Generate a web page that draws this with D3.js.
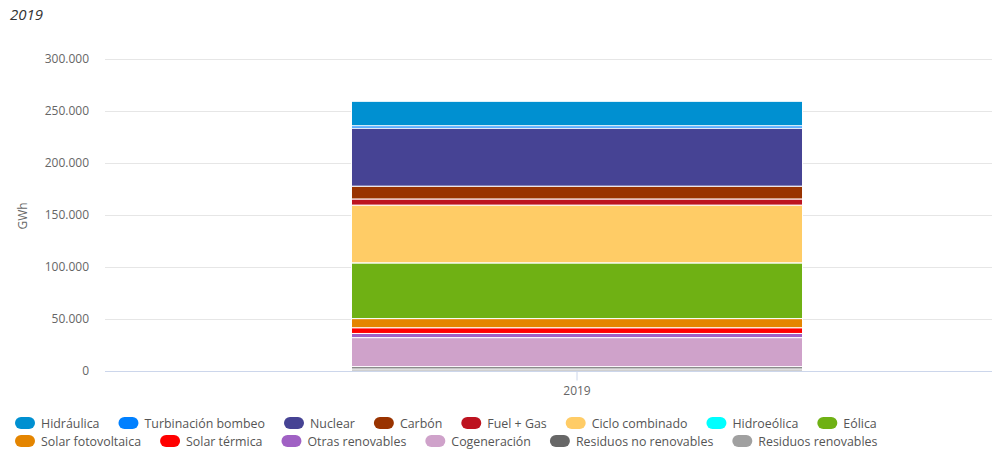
<!DOCTYPE html>
<html>
<head>
<meta charset="utf-8">
<script src="https://cdn.jsdelivr.net/npm/d3@7/dist/d3.min.js"></script>
<style>
  html, body { margin: 0; padding: 0; background: #fff; }
  svg { display: block; font-family: "Open Sans", "DejaVu Sans", sans-serif; }
</style>
</head>
<body>
<svg id="chart" width="992" height="450"></svg>
<script>
// Generación por tecnología, 2019 (GWh)
const categories = ["2019"];
const seriesNames = [
  "Hidráulica", "Turbinación bombeo", "Nuclear", "Carbón", "Fuel + Gas",
  "Ciclo combinado", "Hidroeólica", "Eólica", "Solar fotovoltaica",
  "Solar térmica", "Otras renovables", "Cogeneración",
  "Residuos no renovables", "Residuos renovables"
];
const seriesValues = [
  23500, 2300, 55800, 12300, 5900,
  55500, 20, 53600, 8800,
  5500, 4000, 27900,
  2200, 2000
];
const seriesColors = [
  "#0090d1", "#0080ff", "#464394", "#993300", "#bd1320",
  "#ffcc66", "#00ffff", "#6fb114", "#e48500",
  "#ff0000", "#a061c4", "#cfa2ca",
  "#676767", "#a0a0a0"
];
const yTicks = [0, 50000, 100000, 150000, 200000, 250000, 300000];
const chartTitle = "2019";
const yAxisTitle = "GWh";

const svg = d3.select("#chart");
const plot = { left: 105, right: 1049, top: 59, bottom: 371 };

const locale = d3.formatLocale({ decimal: ",", thousands: ".", grouping: [3], currency: ["", "€"] });
const fmt = locale.format(",d");

const x = d3.scaleBand().domain(categories).range([plot.left, plot.right]).padding(0.3524);
const y = d3.scaleLinear().domain([0, 300000]).range([plot.bottom, plot.top]);

// Title
svg.append("text")
  .attr("x", 10).attr("y", 20)
  .attr("font-size", 15).attr("font-style", "italic")
  .attr("fill", "#333").text(chartTitle);

// Gridlines
svg.append("g").selectAll("line").data(yTicks.filter(d => d > 0)).join("line")
  .attr("x1", plot.left).attr("x2", plot.right)
  .attr("y1", d => Math.round(y(d)) + 0.5).attr("y2", d => Math.round(y(d)) + 0.5)
  .attr("stroke", "#e6e6e6").attr("stroke-width", 1);

// Y axis labels
const yAxis = d3.axisLeft(y).tickValues(yTicks).tickFormat(d => fmt(d)).tickSize(0).tickPadding(16);
const yg = svg.append("g").attr("transform", `translate(${plot.left},0)`).call(yAxis);
yg.select(".domain").remove();
yg.selectAll("text").attr("font-size", 12).attr("fill", "#666")
  .attr("font-family", "'Open Sans', sans-serif");

// Y axis title
svg.append("text")
  .attr("transform", `translate(27,${(plot.top + plot.bottom) / 2 + 1}) rotate(-90)`)
  .attr("text-anchor", "middle").attr("font-size", 12).attr("fill", "#666")
  .text(yAxisTitle);

// Stacked bar (first series on top, as in the legend order)
const rows = categories.map(c => {
  const r = { category: c };
  seriesNames.forEach((s, i) => { r[s] = seriesValues[i]; });
  return r;
});
const stackOrder = seriesNames.slice().reverse();
const stacked = d3.stack().keys(stackOrder)(rows);

svg.append("g").selectAll("g").data(stacked).join("g")
  .attr("fill", d => seriesColors[seriesNames.indexOf(d.key)])
  .selectAll("rect").data(d => d).join("rect")
  .attr("x", d => x(d.data.category) + 0.5)
  .attr("width", x.bandwidth() - 1)
  .attr("y", d => y(d[1]))
  .attr("height", d => Math.max(0, y(d[0]) - y(d[1])))
  .attr("stroke", "#fff").attr("stroke-width", 1);

// X axis
const xAxis = d3.axisBottom(x).tickSize(9).tickPadding(6);
const xg = svg.append("g").attr("transform", `translate(0,${plot.bottom + 0.5})`).call(xAxis);
xg.select(".domain").attr("stroke", "#ccd6eb").attr("d", `M${plot.left},0H${plot.right}`);
xg.selectAll(".tick line").attr("stroke", "#ccd6eb");
xg.selectAll("text").attr("font-size", 12).attr("fill", "#666")
  .attr("font-family", "'Open Sans', sans-serif");

// Legend
const legend = svg.append("g").attr("font-size", 12.4);
const legendRowY = [423, 441];
let lx = 15, row = 0;
seriesNames.forEach((name, i) => {
  const item = legend.append("g");
  item.append("rect")
    .attr("width", 20).attr("height", 12).attr("rx", 6).attr("ry", 6)
    .attr("fill", seriesColors[i]);
  const t = item.append("text").attr("x", 26).attr("y", 10.5)
    .attr("fill", "#555").text(name);
  const w = 26 + t.node().getComputedTextLength();
  if (lx + w > 960) { row += 1; lx = 15; }
  item.attr("transform", `translate(${lx},${legendRowY[row] - 6})`);
  lx += w + 19;
});
</script>
</body>
</html>
